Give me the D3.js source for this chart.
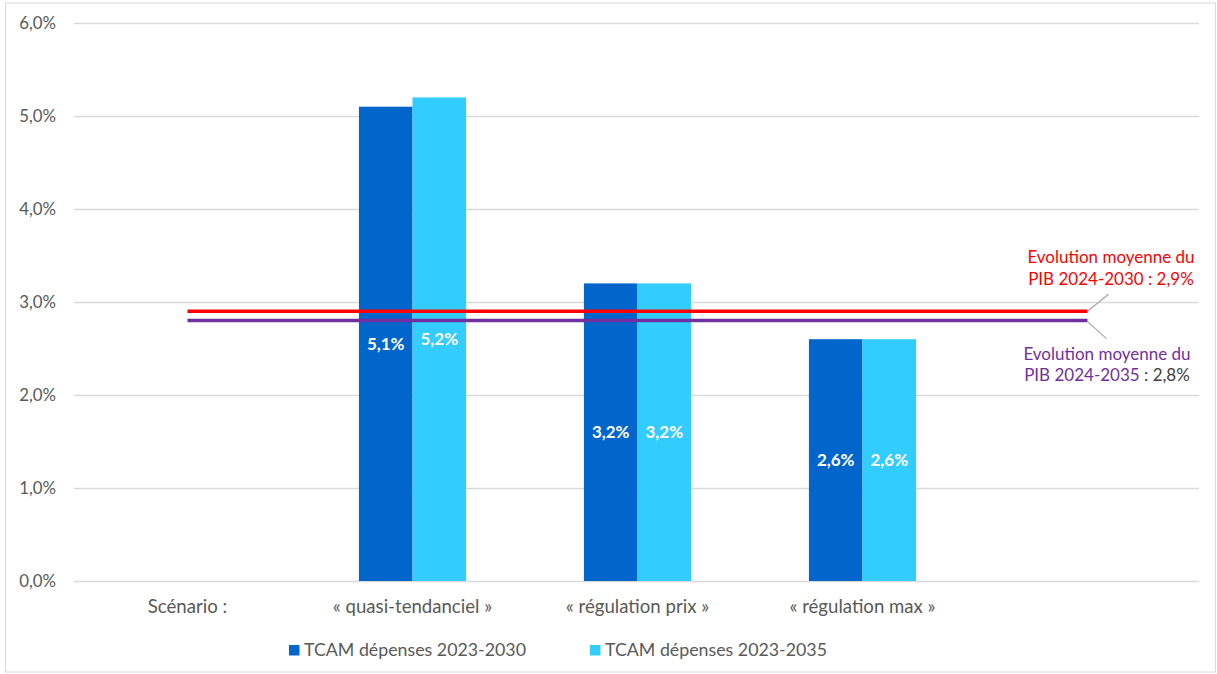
<!DOCTYPE html>
<html>
<head>
<meta charset="utf-8">
<script src="https://cdn.jsdelivr.net/npm/d3@7"></script>
<style>
  body { margin: 0; background: #fff; }
  svg text { font-family: Lato, 'Open Sans', sans-serif; }
</style>
</head>
<body>
<div id="chart"></div>
<script>
const categories = ['Scénario :', '« quasi-tendanciel »', '« régulation prix »', '« régulation max »', ''];
const seriesNames = ['TCAM dépenses 2023-2030', 'TCAM dépenses 2023-2035'];
const spend2030 = [null, 5.1, 3.2, 2.6, null];
const spend2035 = [null, 5.2, 3.2, 2.6, null];
const gdp2030 = [2.9, 2.9, 2.9, 2.9, 2.9];
const gdp2035 = [2.8, 2.8, 2.8, 2.8, 2.8];
const yTicks = [0, 1, 2, 3, 4, 5, 6];

const width = 1217;
const height = 674;
const colors = ['#0066CC', '#33CCFF'];
const fmt = v => v.toFixed(1).replace('.', ',') + '%';

const svg = d3.select('#chart')
  .append('svg')
  .attr('width', width)
  .attr('height', height);

// chart frame
svg.append('rect')
  .attr('x', 5.5).attr('y', 3)
  .attr('width', 1210).attr('height', 669)
  .attr('fill', '#fff')
  .attr('stroke', '#D9D9D9');

const x = d3.scaleBand()
  .domain(categories.map((d, i) => i))
  .range([75, 1200]);

const x1 = d3.scaleBand()
  .domain([0, 1])
  .range([0, x.bandwidth()])
  .paddingInner(0)
  .paddingOuter(1.1);

const y = d3.scaleLinear()
  .domain([0, 6])
  .range([581, 23]);

// gridlines
svg.append('g')
  .selectAll('line')
  .data(yTicks)
  .enter()
  .append('line')
  .attr('x1', 74)
  .attr('x2', 1199)
  .attr('y1', d => Math.round(y(d)) + 0.5)
  .attr('y2', d => Math.round(y(d)) + 0.5)
  .attr('stroke', '#D9D9D9')
  .attr('stroke-width', 1.5);

// y tick labels
svg.append('g')
  .selectAll('text')
  .data(yTicks)
  .enter()
  .append('text')
  .attr('x', 56)
  .attr('y', d => y(d) + 6)
  .attr('text-anchor', 'end')
  .style('font-size', '16.8px')
  .style('fill', '#595959')
  .text(d => fmt(d));

// bars
const seriesData = [spend2030, spend2035];
const groups = svg.selectAll('g.serie')
  .data(seriesData)
  .enter()
  .append('g')
  .attr('class', 'serie')
  .style('fill', (d, i) => colors[i]);

groups.selectAll('rect')
  .data((d, s) => d.map((v, i) => ({ v, i, s })).filter(e => e.v !== null))
  .enter()
  .append('rect')
  .attr('x', d => x(d.i) + x1(d.s))
  .attr('width', x1.bandwidth())
  .attr('y', d => y(d.v))
  .attr('height', d => y(0) - y(d.v));

// GDP lines
const line = d3.line()
  .x((d, i) => x(i) + x.bandwidth() / 2)
  .y(d => y(d));

svg.append('path')
  .datum(gdp2030)
  .attr('d', line)
  .attr('fill', 'none')
  .attr('stroke', '#FF0000')
  .attr('stroke-width', 3.5);

svg.append('path')
  .datum(gdp2035)
  .attr('d', line)
  .attr('fill', 'none')
  .attr('stroke', '#7030A0')
  .attr('stroke-width', 3.5);

// bar value labels, centred in each bar
groups.selectAll('text')
  .data((d, s) => d.map((v, i) => ({ v, i, s })).filter(e => e.v !== null))
  .enter()
  .append('text')
  .attr('x', d => x(d.i) + x1(d.s) + x1.bandwidth() / 2)
  .attr('y', d => y(d.v / 2) + 6)
  .attr('text-anchor', 'middle')
  .style('font-size', '17px')
  .style('font-weight', 'bold')
  .style('fill', '#fff')
  .text(d => fmt(d.v));

// category labels
svg.append('g')
  .selectAll('text')
  .data(categories)
  .enter()
  .append('text')
  .attr('x', (d, i) => x(i) + x.bandwidth() / 2)
  .attr('y', 613)
  .attr('text-anchor', 'middle')
  .style('font-size', '18.6px')
  .style('fill', '#595959')
  .text(d => d);

// annotations with leader lines
const lastX = x(categories.length - 1) + x.bandwidth() / 2;
svg.append('line')
  .attr('x1', lastX).attr('y1', y(gdp2030[4]))
  .attr('x2', lastX + 21).attr('y2', y(gdp2030[4]) - 17)
  .attr('stroke', '#A6A6A6').attr('stroke-width', 1.2);
svg.append('line')
  .attr('x1', lastX).attr('y1', y(gdp2035[4]) + 1)
  .attr('x2', lastX + 19).attr('y2', y(gdp2035[4]) + 18)
  .attr('stroke', '#A6A6A6').attr('stroke-width', 1.2);

const ann1 = svg.append('text')
  .attr('text-anchor', 'middle')
  .style('font-size', '17px')
  .style('fill', '#FF0000');
ann1.append('tspan').attr('x', 1111).attr('y', 263).text('Evolution moyenne du');
ann1.append('tspan').attr('x', 1111).attr('y', 285).text('PIB 2024-2030 : ' + fmt(gdp2030[0]));

const ann2 = svg.append('text')
  .attr('text-anchor', 'middle')
  .style('font-size', '17px')
  .style('fill', '#7030A0');
ann2.append('tspan').attr('x', 1107).attr('y', 360).text('Evolution moyenne du');
const ann2b = ann2.append('tspan').attr('x', 1107).attr('y', 381);
ann2b.append('tspan').text('PIB 2024-2035');
ann2b.append('tspan').style('fill', '#404040').text(' : ' + fmt(gdp2035[0]));

// legend
const legend = svg.append('g');
const legendX = [289, 590];
seriesNames.forEach((name, i) => {
  legend.append('rect')
    .attr('x', legendX[i])
    .attr('y', 645)
    .attr('width', 10.5)
    .attr('height', 10.5)
    .style('fill', colors[i]);
  legend.append('text')
    .attr('x', legendX[i] + 15)
    .attr('y', 656)
    .style('font-size', '17.8px')
    .style('fill', '#595959')
    .text(name);
});
</script>
</body>
</html>
